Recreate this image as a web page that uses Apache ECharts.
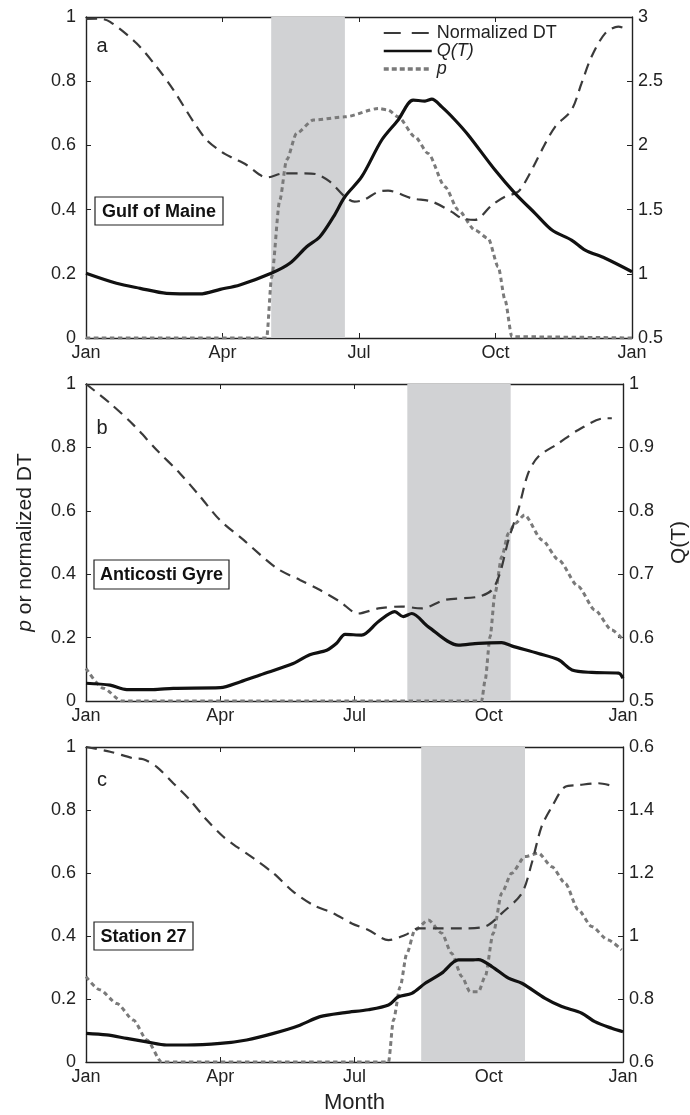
<!DOCTYPE html>
<html>
<head>
<meta charset="utf-8">
<script src="https://cdn.jsdelivr.net/npm/echarts@6/dist/echarts.min.js"></script>
<style>
html,body{margin:0;padding:0;background:#fff;}
#chart{width:690px;height:1115px;}
</style>
</head>
<body>
<div id="chart"></div>
<script>
// ---------- DATA (x = months since Jan 1) ----------
const monthLabels = ['Jan', 'Apr', 'Jul', 'Oct', 'Jan'];
const leftTicks = ['0', '0.2', '0.4', '0.6', '0.8', '1'];
const rightTicksA = ['0.5', '1', '1.5', '2', '2.5', '3'];
const rightTicksB = ['0.5', '0.6', '0.7', '0.8', '0.9', '1'];
const rightTicksC = ['0.6', '0.8', '1', '1.2', '1.4', '0.6'];
const panelLetters = ['a', 'b', 'c'];
const siteNames = ['Gulf of Maine', 'Anticosti Gyre', 'Station 27'];
const seriesNames = ['Normalized DT', 'Q(T)', 'p'];

// shaded windows [start, end] in months
const shadeA = [4.07, 5.69];
const shadeB = [7.18, 9.49];
const shadeC = [7.49, 9.81];

// Panel a — Gulf of Maine
const dtA = [[0,0.994],[0.3,0.995],[0.53,0.985],[1.11,0.918],[1.55,0.845],[1.92,0.773],[2.36,0.674],[2.65,0.617],[2.98,0.58],[3.24,0.56],[3.53,0.539],[3.8,0.51],[3.97,0.5],[4.34,0.513],[4.8,0.513],[5.07,0.51],[5.36,0.487],[5.69,0.44],[5.9,0.425],[6.1,0.43],[6.43,0.456],[6.64,0.459],[7.16,0.435],[7.6,0.425],[8.04,0.393],[8.26,0.373],[8.55,0.368],[8.92,0.414],[9.21,0.44],[9.5,0.456],[9.72,0.503],[10.02,0.586],[10.31,0.658],[10.67,0.71],[10.89,0.793],[11.11,0.876],[11.41,0.949],[11.7,0.97],[11.92,0.96]];
const qA = [[0,1.004],[0.67,0.926],[1.19,0.887],[1.77,0.848],[2.5,0.843],[2.95,0.879],[3.38,0.913],[4.07,1.004],[4.48,1.082],[4.85,1.211],[5.14,1.289],[5.44,1.445],[5.69,1.6],[6.06,1.756],[6.5,2.042],[6.86,2.198],[7.19,2.353],[7.45,2.345],[7.6,2.36],[7.82,2.3],[8.11,2.198],[8.4,2.081],[8.99,1.808],[9.43,1.627],[9.87,1.471],[10.24,1.341],[10.67,1.263],[10.97,1.185],[11.41,1.121],[12,1.016]];
const pA = [[0,0],[3.97,0],[4.08,0.19],[4.26,0.43],[4.41,0.555],[4.63,0.638],[5.0,0.679],[5.69,0.689],[6.43,0.715],[6.64,0.71],[6.86,0.689],[7.23,0.627],[7.52,0.575],[7.89,0.471],[8.18,0.399],[8.55,0.336],[8.84,0.31],[9.06,0.222],[9.21,0.118],[9.36,0.004],[12,0]];

// Panel b — Anticosti Gyre
const dtB = [[0,1.0],[0.54,0.939],[1.06,0.871],[1.58,0.792],[2.1,0.718],[2.55,0.645],[2.99,0.571],[3.52,0.508],[4.26,0.419],[4.78,0.382],[5.23,0.35],[5.68,0.313],[6.08,0.276],[6.53,0.292],[7.05,0.298],[7.5,0.292],[8.02,0.319],[8.77,0.329],[9.07,0.35],[9.25,0.403],[9.44,0.508],[9.66,0.603],[9.88,0.718],[10.11,0.771],[10.56,0.813],[11.0,0.855],[11.6,0.892],[11.75,0.892]];
const qB = [[0,0.528],[0.54,0.525],[0.91,0.518],[1.5,0.518],[1.95,0.52],[3.0,0.521],[3.44,0.53],[3.89,0.541],[4.63,0.559],[5.0,0.573],[5.38,0.58],[5.6,0.591],[5.79,0.605],[6.16,0.604],[6.53,0.625],[6.9,0.641],[7.09,0.633],[7.28,0.638],[7.65,0.617],[8.32,0.588],[8.77,0.591],[9.29,0.592],[9.51,0.587],[10.11,0.575],[10.56,0.565],[10.86,0.549],[11.3,0.545],[11.9,0.544],[12,0.536]];
const pB = [[0,0.103],[0.39,0.04],[0.8,0],[8.84,0],[8.92,0.066],[9.03,0.203],[9.14,0.34],[9.29,0.455],[9.44,0.529],[9.59,0.56],[9.8,0.587],[10.19,0.508],[10.56,0.445],[11.0,0.361],[11.37,0.287],[11.75,0.224],[11.97,0.198]];

// Panel c — Station 27
const dtC = [[0,1.0],[0.54,0.985],[1.06,0.964],[1.28,0.961],[1.58,0.937],[1.95,0.885],[2.32,0.832],[2.7,0.768],[3.07,0.715],[3.37,0.683],[3.74,0.647],[4.19,0.599],[4.63,0.541],[5.08,0.498],[5.53,0.472],[5.94,0.44],[6.31,0.419],[6.76,0.387],[7.13,0.403],[7.43,0.424],[7.8,0.424],[8.4,0.424],[8.92,0.43],[9.29,0.472],[9.74,0.536],[9.96,0.631],[10.18,0.747],[10.41,0.81],[10.71,0.874],[11.0,0.879],[11.45,0.885],[11.75,0.877]];
const qC = [[0,0.691],[0.46,0.686],[0.91,0.675],[1.36,0.664],[1.8,0.654],[2.25,0.654],[3.0,0.659],[3.59,0.67],[4.19,0.691],[4.78,0.717],[5.23,0.744],[5.79,0.757],[6.31,0.766],[6.76,0.781],[6.98,0.807],[7.28,0.818],[7.58,0.85],[7.95,0.882],[8.32,0.924],[8.62,0.924],[8.77,0.925],[9.07,0.903],[9.44,0.866],[9.74,0.85],[10.26,0.802],[10.63,0.776],[11.08,0.755],[11.37,0.728],[11.75,0.707],[12,0.696]];
const pC = [[0,0.271],[0.31,0.229],[0.69,0.186],[1.06,0.133],[1.36,0.07],[1.69,0],[6.76,0],[6.87,0.133],[7.02,0.239],[7.17,0.345],[7.35,0.419],[7.65,0.451],[7.95,0.409],[8.17,0.345],[8.4,0.271],[8.58,0.223],[8.77,0.223],[8.92,0.271],[9.1,0.409],[9.29,0.536],[9.51,0.599],[9.81,0.652],[10.11,0.663],[10.41,0.62],[10.71,0.567],[11.0,0.483],[11.3,0.43],[11.67,0.387],[11.97,0.356]];

// ---------- LAYOUT / STYLE ----------
const FONT = '"Liberation Sans", Arial, Helvetica, sans-serif';
const INK = '#222';
const grids = [
  {left: 86, top: 17, width: 546, height: 321},
  {left: 86, top: 384, width: 537, height: 317},
  {left: 86, top: 747, width: 537, height: 315}
];
const rightAxes = [
  {min: 0.5, max: 3, interval: 0.5, labels: rightTicksA},
  {min: 0.5, max: 1, interval: 0.1, labels: rightTicksB},
  {min: 0.6, max: 1.6, interval: 0.2, labels: rightTicksC}
];
const panels = [
  {dt: dtA, q: qA, p: pA, shade: shadeA},
  {dt: dtB, q: qB, p: pB, shade: shadeB},
  {dt: dtC, q: qC, p: pC, shade: shadeC}
];
const boxes = [
  {x: 95, y: 197, w: 128, h: 28},
  {x: 94, y: 560, w: 135, h: 29},
  {x: 94, y: 922, w: 99, h: 28}
];
const letterPos = [[102, 46], [102, 428], [102, 780]];

const STY = {
  dt: {color: '#3a3a3a', width: 2.2, type: [11, 7], cap: 'butt'},
  q: {color: '#111', width: 3.2, type: 'solid'},
  p: {color: '#7a7a7a', width: 3, type: [4.5, 3.5], cap: 'butt'}
};

const lineAx = {show: true, onZero: false, lineStyle: {color: INK, width: 1.4}};
const tickIn = {show: true, inside: true, length: 5, lineStyle: {color: INK, width: 1}};

const xAxis = [], yAxis = [], series = [], graphic = [];
grids.forEach((g, i) => {
  xAxis.push({
    type: 'value', gridIndex: i, min: 0, max: 12, interval: 3, position: 'bottom',
    axisLine: lineAx, axisTick: tickIn, splitLine: {show: false},
    axisLabel: {formatter: v => monthLabels[Math.round(v / 3)], fontSize: 18, color: INK, fontFamily: FONT, margin: 6},
    name: i === 2 ? 'Month' : '', nameLocation: 'middle', nameGap: 30,
    nameTextStyle: {fontSize: 22, color: INK, fontFamily: FONT}
  });
  xAxis.push({
    type: 'value', gridIndex: i, min: 0, max: 12, interval: 3, position: 'top',
    axisLine: lineAx, axisTick: tickIn, splitLine: {show: false}, axisLabel: {show: false}
  });
  yAxis.push({
    type: 'value', gridIndex: i, min: 0, max: 1, interval: 0.2, position: 'left',
    axisLine: lineAx, axisTick: tickIn, splitLine: {show: false},
    axisLabel: {formatter: v => leftTicks[Math.round(v / 0.2)], fontSize: 18, color: INK, fontFamily: FONT, margin: 10},
    name: i === 1 ? '{i|p} or normalized DT' : '', nameLocation: 'middle', nameGap: 50, nameRotate: 90,
    nameTextStyle: {fontSize: 21, color: INK, fontFamily: FONT, rich: {i: {fontStyle: 'italic', fontSize: 21, color: INK, fontFamily: FONT}}}
  });
  const r = rightAxes[i];
  yAxis.push({
    type: 'value', gridIndex: i, min: r.min, max: r.max, interval: r.interval, position: 'right',
    axisLine: lineAx, axisTick: tickIn, splitLine: {show: false},
    axisLabel: {formatter: v => r.labels[Math.round((v - r.min) / r.interval)], fontSize: 18, color: INK, fontFamily: FONT, margin: 6},
    name: i === 1 ? 'Q(T)' : '', nameLocation: 'middle', nameGap: 46, nameRotate: 90,
    nameTextStyle: {fontSize: 21, color: INK, fontFamily: FONT}
  });

  const P = panels[i];
  const xi = i * 2, yl = i * 2, yr = i * 2 + 1;
  series.push({
    type: 'line', xAxisIndex: xi, yAxisIndex: yl, data: [], z: 1, silent: true,
    markArea: {silent: true, itemStyle: {color: '#d1d2d4'}, data: [[{xAxis: P.shade[0]}, {xAxis: P.shade[1]}]]}
  });
  series.push({
    name: seriesNames[2], type: 'line', xAxisIndex: xi, yAxisIndex: yl, data: P.p, z: 3,
    symbol: 'none', showSymbol: false, smooth: 0.25, smoothMonotone: 'x',
    lineStyle: STY.p, itemStyle: {color: STY.p.color}
  });
  series.push({
    name: seriesNames[0], type: 'line', xAxisIndex: xi, yAxisIndex: yl, data: P.dt, z: 4,
    symbol: 'none', showSymbol: false, smooth: 0.3,
    lineStyle: STY.dt, itemStyle: {color: STY.dt.color}
  });
  series.push({
    name: seriesNames[1], type: 'line', xAxisIndex: xi, yAxisIndex: yr, data: P.q, z: 5,
    symbol: 'none', showSymbol: false, smooth: 0.3,
    lineStyle: STY.q, itemStyle: {color: STY.q.color}
  });

  const b = boxes[i];
  graphic.push({
    type: 'group', x: b.x, y: b.y, z: 50, children: [
      {type: 'rect', shape: {x: 0, y: 0, width: b.w, height: b.h}, style: {fill: '#fff', stroke: INK, lineWidth: 1.2}},
      {type: 'text', style: {text: siteNames[i], x: b.w / 2, y: b.h / 2 + 1, align: 'center', verticalAlign: 'middle',
        fontSize: 18, fontWeight: 'bold', fontFamily: FONT, fill: '#111'}}
    ]
  });
  graphic.push({
    type: 'text', x: letterPos[i][0], y: letterPos[i][1], z: 50,
    style: {text: panelLetters[i], align: 'center', verticalAlign: 'middle', fontSize: 20, fontFamily: FONT, fill: INK}
  });
});

const hidden = {color: 'rgba(0,0,0,0)', borderWidth: 0, borderColor: 'rgba(0,0,0,0)'};
const option = {
  backgroundColor: '#fff',
  animation: false,
  grid: grids.map(g => Object.assign({containLabel: false, outerBoundsMode: 'none'}, g)),
  xAxis, yAxis, series, graphic,
  legend: {
    data: [
      {name: seriesNames[0], itemStyle: hidden, lineStyle: {color: '#3a3a3a', width: 2.2, type: [17, 11], cap: 'butt'}},
      {name: seriesNames[1], itemStyle: hidden, lineStyle: {color: '#111', width: 2.6, type: 'solid'}},
      {name: seriesNames[2], itemStyle: hidden, lineStyle: {color: '#7a7a7a', width: 3.5, type: [5, 3], cap: 'butt'}}
    ],
    orient: 'vertical', left: 382, top: 24, padding: 0,
    itemWidth: 48, itemHeight: 14, itemGap: 0, selectedMode: false,
    itemStyle: hidden,
    formatter: n => n === 'Normalized DT' ? n : '{i|' + n + '}',
    textStyle: {fontSize: 18, lineHeight: 17, color: INK, fontFamily: FONT,
      rich: {i: {fontStyle: 'italic', fontSize: 18, lineHeight: 17, color: INK, fontFamily: FONT}}}
  }
};

const chart = echarts.init(document.getElementById('chart'), null, {renderer: 'canvas'});
chart.setOption(option);
</script>
</body>
</html>
